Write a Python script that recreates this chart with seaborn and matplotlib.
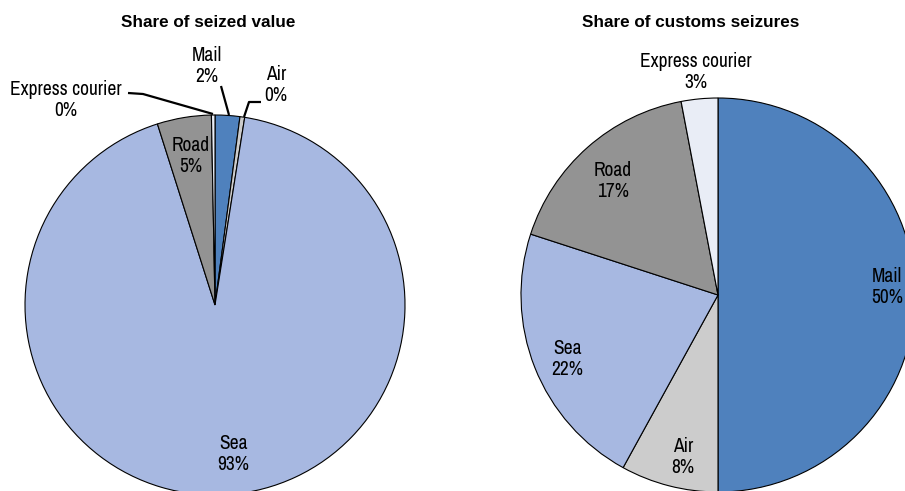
import matplotlib
matplotlib.use("Agg")
import matplotlib.pyplot as plt
import seaborn as sns

sns.set_theme(style="white")
plt.rcParams["font.family"] = ["Archivo Narrow", "Liberation Sans", "DejaVu Sans"]
plt.rcParams["text.color"] = "black"

# Transport modes, in clockwise order from 12 o'clock
modes = ["Mail", "Air", "Sea", "Road", "Express courier"]
seized_value = [2.1, 0.4, 92.6, 4.6, 0.3]        # % of seized value
customs_seizures = [50.0, 8.0, 22.0, 17.0, 3.0]  # % of customs seizures

palette = {
    "Mail": "#4f81bd",
    "Air": "#cccccc",
    "Sea": "#a7b8e1",
    "Road": "#939393",
    "Express courier": "#e9edf6",
}
colors = [palette[m] for m in modes]

W, H = 905, 491
fig = plt.figure(figsize=(W / 100, H / 100), dpi=100)
ax = fig.add_axes([0, 0, 1, 1])

def lab(mode, v):
    return f"{mode}\n{v:.0f}%"

wedge_style = dict(edgecolor="black", linewidth=0.8)

# Left pie: share of seized value
c1, r1 = (215, H - 305), 190
ax.pie(seized_value, colors=colors, startangle=90, counterclock=False,
       center=c1, radius=r1, wedgeprops=wedge_style)

# Right pie: share of customs seizures
c2, r2 = (718, H - 295), 197
ax.pie(customs_seizures, colors=colors, startangle=90, counterclock=False,
       center=c2, radius=r2, wedgeprops=wedge_style)

ax.set_xlim(0, W)
ax.set_ylim(0, H)
ax.set_aspect("equal")
ax.axis("off")

fs = 14
tkw = dict(ha="center", va="center", fontsize=fs, color="black", linespacing=1.1)

sv = dict(zip(modes, seized_value))
cs = dict(zip(modes, customs_seizures))

# Labels for the left pie
ax.text(207, H - 66, lab("Mail", sv["Mail"]), **tkw)
ax.text(276, H - 85, lab("Air", sv["Air"]), **tkw)
ax.text(66, H - 100, lab("Express courier", sv["Express courier"]), **tkw)
ax.text(191, H - 156, lab("Road", sv["Road"]), **tkw)
ax.text(233, H - 454, lab("Sea", sv["Sea"]), **tkw)

# Leader lines for the narrow slices
lk = dict(color="black", linewidth=1.6, solid_capstyle="butt")
ax.plot([221, 229], [H - 86, H - 115], **lk)
ax.plot([261, 249, 244], [H - 102, H - 102, H - 117], **lk)
ax.plot([128, 143, 213], [H - 93, H - 94, H - 114], **lk)

# Labels for the right pie
ax.text(696, H - 72, lab("Express courier", cs["Express courier"]), **tkw)
ax.text(613, H - 181, lab("Road", cs["Road"]), **tkw)
ax.text(567, H - 359, lab("Sea", cs["Sea"]), **tkw)
ax.text(683, H - 457, lab("Air", cs["Air"]), **tkw)
ax.text(887, H - 287, lab("Mail", cs["Mail"]), **tkw)

# Panel titles
tt = dict(ha="center", va="center", fontsize=12.3, fontweight="bold",
          family=["Liberation Sans", "DejaVu Sans"], color="black")
ax.text(208, H - 22, "Share of seized value", **tt)
ax.text(691, H - 22, "Share of customs seizures", **tt)

fig.savefig("out.png", dpi=100, facecolor="white")
